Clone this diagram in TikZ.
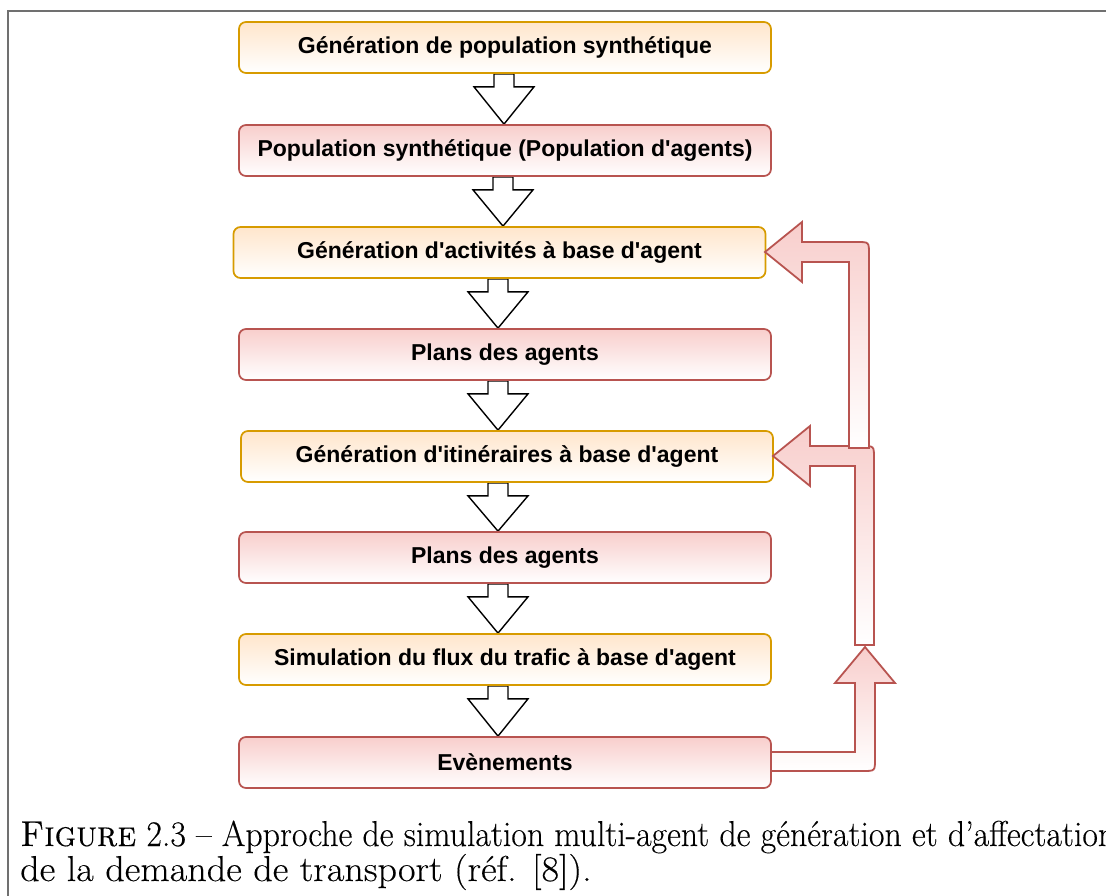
\documentclass[tikz,border=0pt]{standalone}
\usepackage{fontspec}
\newfontfamily\boxfont{Liberation Sans}
\newfontfamily\capfont{lmroman17-regular.otf}[FakeBold=0.25, SmallCapsFont=lmromancaps10-regular.otf, SmallCapsFeatures={FakeBold=0.25}]
\usetikzlibrary{calc,backgrounds}
\definecolor{orline}{HTML}{D79B00}
\definecolor{orfill}{HTML}{FFE6CC}
\definecolor{rdline}{HTML}{B85450}
\definecolor{rdfill}{HTML}{F8CECC}
\definecolor{framegray}{HTML}{707070}
\tikzset{
 box/.style={rounded corners=7pt, minimum width=532pt, minimum height=51pt, inner sep=0pt, line width=1.7pt,
   font=\boxfont\bfseries\fontsize{23}{27}\selectfont, align=center},
 obox/.style={box, draw=orline, top color=orfill, bottom color=white},
 rbox/.style={box, draw=rdline, top color=rdfill, bottom color=white},
 blk/.style={draw=black, fill=white, line width=1.4pt, line join=miter},
 loopar/.style={draw=rdline, top color=rdfill, bottom color=white, line width=1.8pt, line join=miter},
 framel/.style={draw=framegray, line width=2pt},
 captext/.style={anchor=base west, inner sep=0pt, transform shape, font=\capfont\fontsize{36}{42}\selectfont}
}
\newcommand\blockarrow[3]{\draw[blk] let \p1=(#1.south), \p2=(#2.north) in
 (#3pt-10pt,\y1) -- (#3pt+10pt,\y1) -- (#3pt+10pt,\y1-13pt) -- (#3pt+30pt,\y1-13pt) -- (#3pt,\y2)
 -- (#3pt-30pt,\y1-13pt) -- (#3pt-10pt,\y1-13pt) -- cycle;}
\begin{document}
\begin{tikzpicture}[x=1pt,y=-1pt]
\useasboundingbox (0,0) rectangle (1106,896);
\clip (0,0) rectangle (1106,896);
\draw[framel] (1110,11) -- (8,11) -- (8,900);

\node[obox] (n1) at (505,47.5)  {Génération de population synthétique};
\node[rbox] (n2) at (505,150.5) {Population synthétique (Population d'agents)};
\node[obox] (n3) at (499.5,252.5) {Génération d'activités à base d'agent};
\node[rbox] (n4) at (505,354.5) {Plans des agents};
\node[obox] (n5) at (507,456.5) {Génération d'itinéraires à base d'agent};
\node[rbox] (n6) at (505,557.5) {Plans des agents};
\node[obox] (n7) at (505,659.5) {Simulation du flux du trafic à base d'agent};
\node[rbox] (n8) at (505,762.5) {Evènements};

\begin{pgfonlayer}{background}
\blockarrow{n1}{n2}{504}
\blockarrow{n2}{n3}{503}
\blockarrow{n3}{n4}{498}
\blockarrow{n4}{n5}{498}
\blockarrow{n5}{n6}{498}
\blockarrow{n6}{n7}{498}
\blockarrow{n7}{n8}{498}
\end{pgfonlayer}

% loop arrows
\path[loopar] (771,752) -- (855,752) -- (855,683) -- (835,683) -- (865,647) -- (895,683) -- (875,683)
  -- (875,759) .. controls (875,771) .. (863,771) -- (771,771) -- cycle;
\path[loopar] (855,645) -- (855,466) -- (810,466) -- (810,486) -- (773,456) -- (810,426) -- (810,446)
  -- (862,446) .. controls (874,446) .. (874,458) -- (874,645) -- cycle;
\path[loopar] (849,448) -- (849,262) -- (802,262) -- (802,282) -- (765,252) -- (802,222) -- (802,242)
  -- (857,242) .. controls (869,242) .. (869,254) -- (869,448) -- cycle;

\node[captext, xscale=0.94] (cap1) at (20,846) {\textsc{Figure} 2.3 – Approche de simulation multi-agent de génération et d’affectation};
\node[captext, xscale=1.06] (cap2) at (20,881) {de la demande de transport (réf. [8]).};
\end{tikzpicture}
\end{document}
